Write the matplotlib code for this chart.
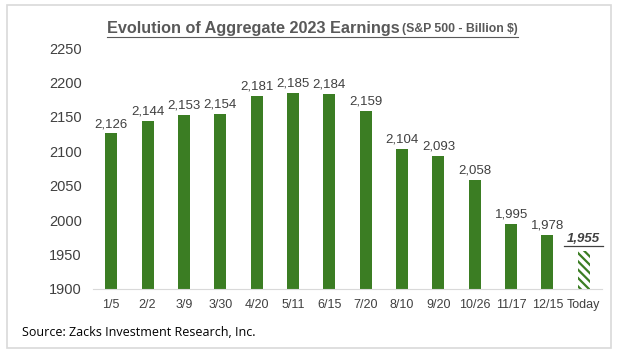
import numpy as np
import matplotlib
matplotlib.use("Agg")
import matplotlib.pyplot as plt
from matplotlib.patches import Rectangle
from matplotlib.lines import Line2D

# data
dates = ['1/5', '2/2', '3/9', '3/30', '4/20', '5/11', '6/15', '7/20',
         '8/10', '9/20', '10/26', '11/17', '12/15', 'Today']
earnings = [2126, 2144, 2153, 2154, 2181, 2185, 2184, 2159,
            2104, 2093, 2058, 1995, 1978, 1955]

green = '#3b7d23'
txt = '#404040'

plt.rcParams['font.family'] = ['Liberation Sans', 'DejaVu Sans']
plt.rcParams['hatch.linewidth'] = 1.6

fig = plt.figure(figsize=(6.2, 3.59), dpi=100)
fig.patch.set_facecolor('white')

# light frame round the whole chart
fig.patches.append(Rectangle((7/620, 1-348/359), 604/620, 343/359,
                             transform=fig.transFigure, fill=False,
                             edgecolor='#d9d9d9', linewidth=1.2))

ax = fig.add_axes([93/620, 0.195, 509/620, 0.671])
x = np.arange(len(dates))
n = len(dates)

ax.bar(x[:-1], np.array(earnings[:-1]) - 1900, bottom=1900, width=0.33,
       color=green)
ax.bar(x[-1], earnings[-1] - 1900, bottom=1900, width=0.33,
       color='white', edgecolor=green, hatch='\\\\\\\\', linewidth=0)

for i, v in enumerate(earnings[:-1]):
    ax.text(x[i], v + 5, f'{v:,}', ha='center', va='bottom',
            fontsize=9.5, color=txt)
t = ax.text(x[-1], earnings[-1] + 9, f'{earnings[-1]:,}', ha='center',
            va='bottom', fontsize=9.5, color=txt, fontweight='bold',
            fontstyle='italic')

ax.set_xlim(-0.5, n - 0.5)
ax.set_ylim(1900, 2250)
ax.set_yticks(np.arange(1900, 2251, 50))
ax.set_xticks(x)
ax.set_xticklabels(dates)
ax.tick_params(axis='y', length=0, labelsize=10.5, labelcolor=txt, pad=8)
ax.tick_params(axis='x', length=0, labelsize=9, labelcolor=txt, pad=7)
for s in ['top', 'right', 'left']:
    ax.spines[s].set_visible(False)
ax.spines['bottom'].set_color('#d9d9d9')

# title in two sizes, underlined
t1 = fig.text(107/620, 1 - 28/359, 'Evolution of Aggregate 2023 Earnings',
              fontsize=11.7, fontweight='bold', color='#595959', va='center')
fig.canvas.draw()
r = fig.canvas.get_renderer()
bb1 = t1.get_window_extent(r).transformed(fig.transFigure.inverted())
t2 = fig.text(bb1.x1 + 0.004, 1 - 29/359, '(S&P 500 - Billion $)',
              fontsize=8.8, fontweight='bold', color='#595959', va='center')
fig.canvas.draw()
bb2 = t2.get_window_extent(r).transformed(fig.transFigure.inverted())
yl = bb1.y0 - 0.004
fig.add_artist(Line2D([bb1.x0, bb2.x1], [yl, yl], transform=fig.transFigure,
                      color='#595959', linewidth=0.8))

bb3 = t.get_window_extent(r).transformed(fig.transFigure.inverted())
fig.add_artist(Line2D([bb3.x0 - 0.005, bb3.x1 + 0.005],
                      [bb3.y0 - 0.003, bb3.y0 - 0.003],
                      transform=fig.transFigure, color=txt, linewidth=0.9))

fig.text(22/620, 1 - 333/359, 'Source: Zacks Investment Research, Inc.',
         fontsize=9, color='black', va='center', family=['Open Sans', 'DejaVu Sans'])

fig.savefig('out.png', dpi=100)
